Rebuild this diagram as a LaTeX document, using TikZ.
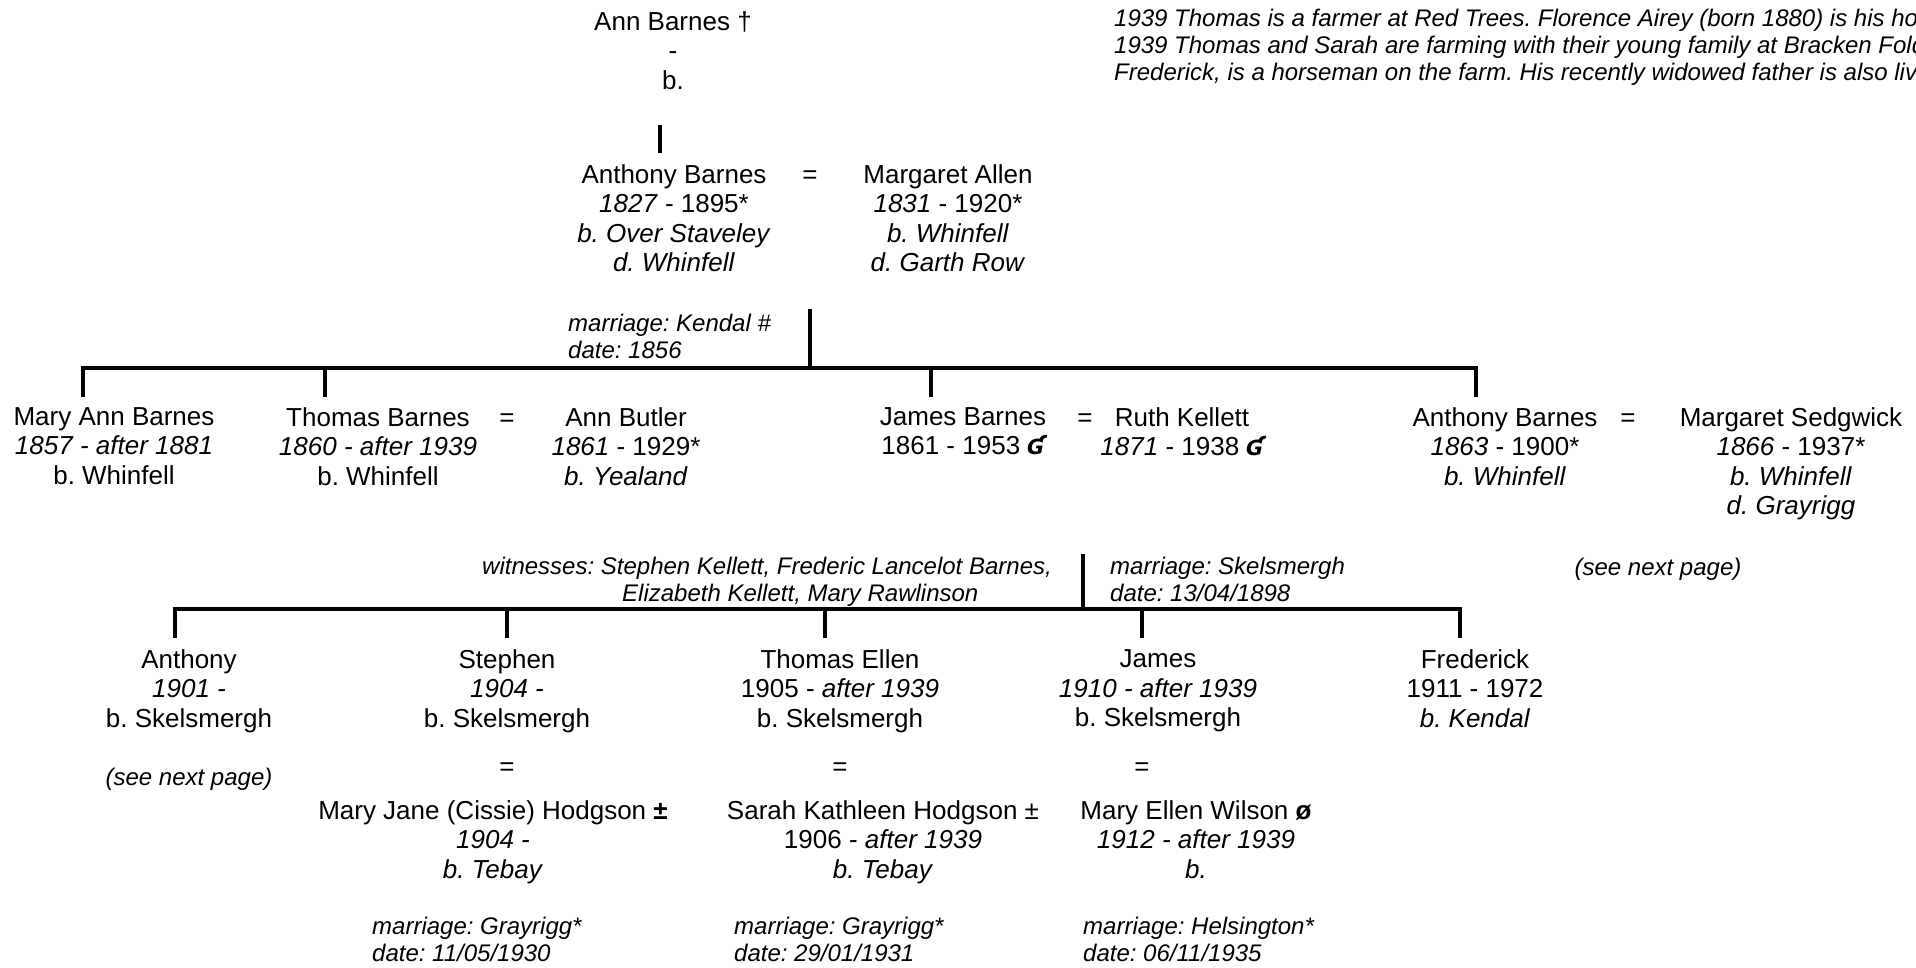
\documentclass[tikz,border=0pt]{standalone}
\usepackage{fontspec}
\setmainfont{Liberation Sans}
\newfontfamily\hookfont[Scale=0.8]{DejaVu Sans}
\usetikzlibrary{positioning}
\frenchspacing

\newcommand{\gmark}{{\hookfont\bfseries\itshape Ɠ}}

\tikzset{
  person/.style = {align=center, inner sep=0pt, anchor=north, yshift=18.6pt,
    font=\fontsize{26}{29.5}\selectfont},
  eqsign/.style = {inner sep=0pt, anchor=base, font=\fontsize{26}{29.5}\selectfont},
  note/.style = {align=left, inner sep=0pt, anchor=north west, yshift=17.2pt,
    font=\fontsize{24}{27}\selectfont\itshape},
  cnote/.style = {note, align=center, anchor=north},
  treeline/.style = {line width=3.5pt},
}

\begin{document}
\begin{tikzpicture}[x=1pt, y=-1pt]
  \useasboundingbox (0,0) rectangle (1916,967);

  % Nota in alto a destra
  \node[note] (census) at (1114,26) {1939 Thomas is a farmer at Red Trees. Florence Airey (born 1880) is his ho\\1939 Thomas and Sarah are farming with their young family at Bracken Fold\\Frederick, is a horseman on the farm. His recently widowed father is also liv};

  % Prima e seconda generazione
  \node[person] (ann) at (673,30) {Ann Barnes †\\-\\b.};
  \node[person] (anthony) at (674,183) {Anthony Barnes\\\textit{1827} - 1895*\\\textit{b. Over Staveley}\\\textit{d. Whinfell}};
  \node[eqsign] (eqA) at (810,183) {=};
  \node[person] (margaret) at (948,183) {Margaret Allen\\\textit{1831} - 1920*\\\textit{b. Whinfell}\\\textit{d. Garth Row}};
  \node[note] (marrA) at (568,331) {marriage: Kendal \#\\date: 1856};

  % Figli di Anthony e Margaret
  \node[person] (maryann) at (114,426) {Mary Ann Barnes\\\textit{1857 - after 1881}\\b. Whinfell};
  \node[person] (thomas) at (378,426) {Thomas Barnes\\\textit{1860 - after 1939}\\b. Whinfell};
  \node[eqsign] (eqT) at (507,426) {=};
  \node[person] (annbutler) at (626,426) {Ann Butler\\\textit{1861} - 1929*\\\textit{b. Yealand}};
  \node[person] (james) at (963,426) {James Barnes\\1861 - 1953 \gmark};
  \node[eqsign] (eqJ) at (1085,426) {=};
  \node[person] (ruth) at (1182,426) {Ruth Kellett\\\textit{1871} - 1938 \gmark};
  \node[person] (anthonyjr) at (1505,426) {Anthony Barnes\\\textit{1863} - 1900*\\\textit{b. Whinfell}};
  \node[eqsign] (eqAj) at (1628,426) {=};
  \node[person] (sedgwick) at (1791,426) {Margaret Sedgwick\\\textit{1866} - 1937*\\\textit{b. Whinfell}\\\textit{d. Grayrigg}};
  \node[cnote] (nextA) at (1658,575) {(see next page)};

  \node[note] (witness) at (482,574) {witnesses: Stephen Kellett, Frederic Lancelot Barnes,\\\hspace*{140pt}Elizabeth Kellett, Mary Rawlinson};
  \node[note] (marrJ) at (1110,574) {marriage: Skelsmergh\\date: 13/04/1898};

  % Figli di James e Ruth
  \node[person] (anthony3) at (189,668) {Anthony\\\textit{1901 -}\\b. Skelsmergh};
  \node[person] (stephen) at (507,668) {Stephen\\\textit{1904 -}\\b. Skelsmergh};
  \node[person] (thomasellen) at (840,668) {Thomas Ellen\\1905 - \textit{after 1939}\\b. Skelsmergh};
  \node[person] (james3) at (1158,668) {James\\\textit{1910 - after 1939}\\b. Skelsmergh};
  \node[person] (frederick) at (1475,668) {Frederick\\1911 - 1972\\\textit{b. Kendal}};
  \node[cnote] (nextB) at (189,785) {(see next page)};

  \node[eqsign] (eqS) at (507,775) {=};
  \node[eqsign] (eqTE) at (840,775) {=};
  \node[eqsign] (eqJ3) at (1142,775) {=};

  \node[person] (maryjane) at (493,819) {Mary Jane (Cissie) Hodgson \textbf{±}\\\textit{1904 -}\\\textit{b. Tebay}};
  \node[person] (sarah) at (883,819) {Sarah Kathleen Hodgson ±\\1906 - \textit{after 1939}\\\textit{b. Tebay}};
  \node[person] (maryellen) at (1196,819) {Mary Ellen Wilson \textbf{ø}\\\textit{1912 - after 1939}\\\textit{b.}};

  \node[note] (marrS) at (372,934) {marriage: Grayrigg*\\date: 11/05/1930};
  \node[note] (marrTE) at (734,934) {marriage: Grayrigg*\\date: 29/01/1931};
  \node[note] (marrJ3) at (1083,934) {marriage: Helsington*\\date: 06/11/1935};

  % Linee dell'albero
  \coordinate (annT) at (660,125);
  \coordinate (annB) at (660,153);
  \draw[treeline, line width=4.5pt] (annT) -- (annB);

  \coordinate (matrA) at (810,309);
  \coordinate (barA) at (810,368);
  \coordinate (fA1) at (83,397);
  \coordinate (fA2) at (325,397);
  \coordinate (fA3) at (931,397);
  \coordinate (fA4) at (1476,397);
  \draw[treeline] (matrA) -- (barA);
  \draw[treeline] (fA1) -- (fA1 |- barA) -- (fA4 |- barA) -- (fA4);
  \draw[treeline] (fA2) -- (fA2 |- barA);
  \draw[treeline] (fA3) -- (fA3 |- barA);

  \coordinate (matrJ) at (1083,554);
  \coordinate (barJ) at (1083,609);
  \coordinate (fJ1) at (175,638);
  \coordinate (fJ2) at (507,638);
  \coordinate (fJ3) at (825,638);
  \coordinate (fJ4) at (1142,638);
  \coordinate (fJ5) at (1460,638);
  \draw[treeline] (matrJ) -- (barJ);
  \draw[treeline] (fJ1) -- (fJ1 |- barJ) -- (fJ5 |- barJ) -- (fJ5);
  \foreach \c in {fJ2, fJ3, fJ4}
    \draw[treeline] (\c) -- (\c |- barJ);
\end{tikzpicture}
\end{document}
